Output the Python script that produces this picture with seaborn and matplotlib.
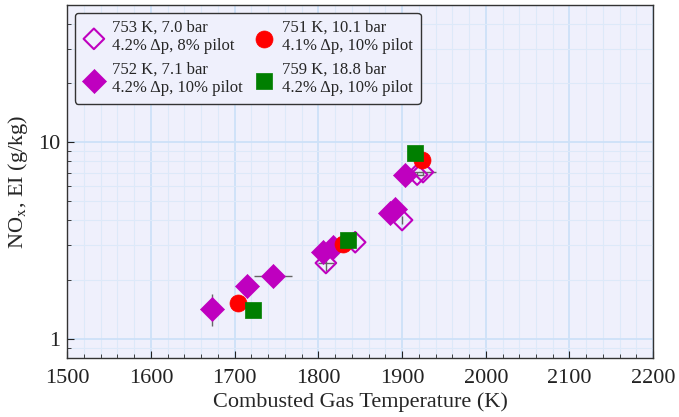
import numpy as np
import pandas as pd
import matplotlib
matplotlib.use('Agg')
import matplotlib.pyplot as plt
from matplotlib.ticker import MultipleLocator, LogLocator, FuncFormatter, NullFormatter
import seaborn as sns

sns.set_style("ticks")
plt.rcParams['font.family'] = ['Liberation Serif', 'DejaVu Serif']
plt.rcParams['mathtext.fontset'] = 'stix'

# data
open_T = [1809, 1844, 1900, 1918, 1925]
open_ei = [2.43, 3.10, 4.02, 6.85, 7.05]
open_xerr = [10, 0, 0, 8, 15]
open_yerr = [0.22, 0, 0.2, 0.2, 0.2]

filled_T = [1673, 1715, 1746, 1806, 1818, 1886, 1892, 1904]
filled_ei = [1.42, 1.86, 2.09, 2.77, 2.93, 4.35, 4.60, 6.80]
filled_xerr = [0, 0, 23, 0, 0, 0, 0, 0]
filled_yerr = [0.26, 0, 0, 0, 0, 0, 0, 0]

red_T = [1704, 1830, 1924]
red_ei = [1.52, 3.03, 8.10]

green_T = [1722, 1836, 1916]
green_ei = [1.40, 3.18, 8.80]

labels = ['753 K, 7.0 bar\n4.2% Δp, 8% pilot',
          '752 K, 7.1 bar\n4.2% Δp, 10% pilot',
          '751 K, 10.1 bar\n4.1% Δp, 10% pilot',
          '759 K, 18.8 bar\n4.2% Δp, 10% pilot']

fig = plt.figure(figsize=(6.79, 4.17), dpi=100)
ax = fig.add_axes([0.099, 0.142, 0.863, 0.846])
ax.set_facecolor('#eff0fc')

# error bars (behind markers)
ax.errorbar(filled_T, filled_ei, xerr=filled_xerr, yerr=filled_yerr, fmt='none',
            ecolor='#666666', elinewidth=1.0, capsize=0, zorder=2)
ax.errorbar(open_T, open_ei, xerr=open_xerr, yerr=open_yerr, fmt='none',
            ecolor='#666666', elinewidth=1.0, capsize=0, zorder=2)

sns.scatterplot(x=filled_T, y=filled_ei, marker='D', s=150, color='#bf00bf',
                edgecolor='#bf00bf', linewidth=0.5, label=labels[1], ax=ax, zorder=3)
sns.scatterplot(x=open_T, y=open_ei, marker='D', s=110, facecolors='none',
                edgecolor='#bf00bf', linewidth=1.5, label=labels[0], ax=ax, zorder=4)
sns.scatterplot(x=red_T, y=red_ei, marker='o', s=150, color='#ff0000',
                edgecolor='#ff0000', linewidth=0.5, label=labels[2], ax=ax, zorder=5)
sns.scatterplot(x=green_T, y=green_ei, marker='s', s=140, color='#007f00',
                edgecolor='#007f00', linewidth=0.5, label=labels[3], ax=ax, zorder=6)

ax.set_yscale('log')
ax.set_xlim(1500, 2200)
ax.set_ylim(0.8, 50)
ax.xaxis.set_major_locator(MultipleLocator(100))
ax.xaxis.set_minor_locator(MultipleLocator(20))
ax.yaxis.set_major_locator(LogLocator(base=10, numticks=10))
ax.yaxis.set_minor_locator(LogLocator(base=10, subs=np.arange(2, 10), numticks=10))
ax.yaxis.set_major_formatter(FuncFormatter(lambda v, p: '%g' % v))
ax.yaxis.set_minor_formatter(NullFormatter())

ax.grid(which='major', color='#cde1f8', linewidth=1.3, zorder=0)
ax.grid(which='minor', color='#dde9f9', linewidth=0.8, zorder=0)
ax.set_axisbelow(True)

ax.tick_params(which='both', direction='in', labelsize=16, colors='#222222')
ax.tick_params(which='major', length=5, pad=5)
ax.tick_params(axis='x', which='major', pad=8)
ax.tick_params(which='minor', length=3)
for sp in ax.spines.values():
    sp.set_color('#333333')
    sp.set_linewidth(1.0)

ax.set_xlabel('Combusted Gas Temperature (K)', fontsize=16, labelpad=3)
ax.set_ylabel(r'NO$_\mathrm{x}$, EI (g/kg)', fontsize=16, labelpad=6)

h, l = ax.get_legend_handles_labels()
order = [l.index(x) for x in labels]
leg = ax.legend([h[i] for i in order], [l[i] for i in order], ncol=2, loc='upper left',
                fontsize=12, frameon=True, fancybox=True, edgecolor='#333333',
                facecolor='#eff0fc', framealpha=1, borderaxespad=0.45,
                handlelength=1.4, handletextpad=0.4, columnspacing=0.55,
                labelspacing=0.45, borderpad=0.45)
leg.get_frame().set_linewidth(1.0)

fig.savefig('out.png', dpi=100)
